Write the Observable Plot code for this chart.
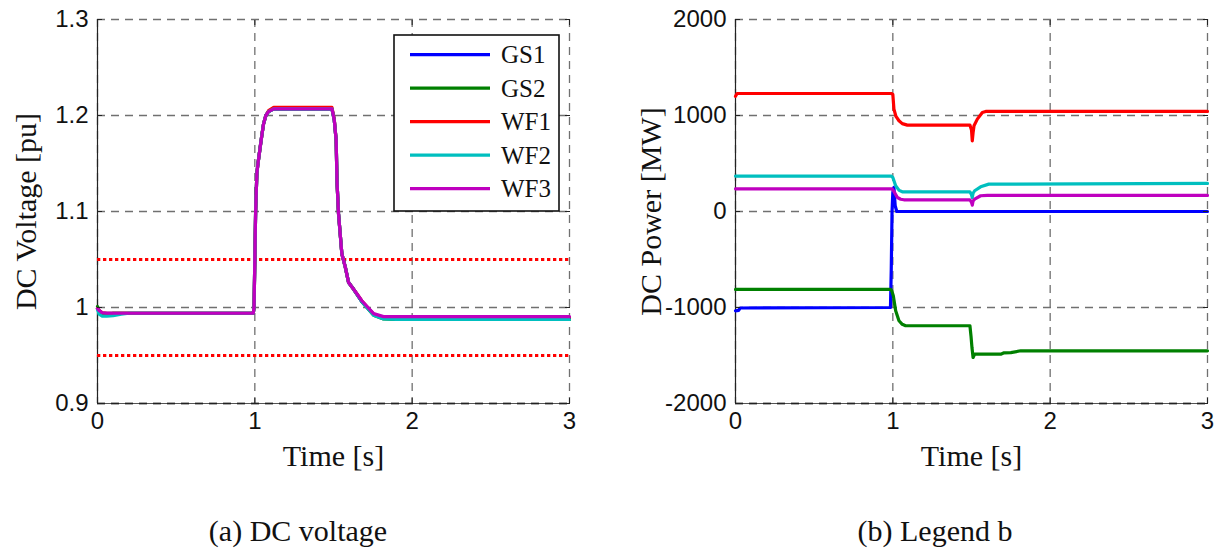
<!DOCTYPE html>
<html><head><meta charset="utf-8">
<script src="https://cdn.jsdelivr.net/npm/d3@7"></script>
<script src="https://cdn.jsdelivr.net/npm/@observablehq/plot@0.6"></script>
<style>
html,body{margin:0;padding:0;background:#fff;}
#wrap{position:relative;width:1222px;height:549px;overflow:hidden;}
.panel{position:absolute;top:0;width:611px;height:549px;}
.cap{position:absolute;top:514px;line-height:34px;font-family:"Liberation Serif","Times New Roman",serif;font-size:30px;color:#111;white-space:nowrap;transform:translateX(-50%);}
.legend{position:absolute;}
</style>
</head><body>
<div id="wrap">
  <div class="panel" id="pa" style="left:0"></div>
  <div class="panel" id="pb" style="left:611px"></div>
</div>
<script>
// ---------- shared ----------
const series = ["GS1", "GS2", "WF1", "WF2", "WF3"];
const colors = ["#0000ff", "#008000", "#ff0000", "#00bfbf", "#bf00bf"];
const timeDomain = [0, 3];
const timeTicks = [0, 1, 2, 3];

// ---------- (a) DC voltage ----------
const voltDomain = [0.9, 1.3];
const voltTicks = [0.9, 1.0, 1.1, 1.2, 1.3];
const voltLimits = [1.05, 0.95];
const tVolt = [0, 0.01, 0.03, 0.06, 0.1, 0.15, 0.2, 0.99, 0.995, 0.998, 1.005, 1.013, 1.02, 1.034, 1.045, 1.055, 1.07, 1.087, 1.12, 1.3, 1.49, 1.505, 1.517, 1.522, 1.532, 1.553, 1.575, 1.596, 1.628, 1.68, 1.755, 1.818, 1.9, 2.5, 3.0];
const vGS1 = [0.999, 0.996, 0.994, 0.994, 0.994, 0.994, 0.994, 0.994, 1.0, 1.03, 1.10, 1.14, 1.15, 1.167, 1.18, 1.191, 1.20, 1.204, 1.207, 1.207, 1.207, 1.195, 1.174, 1.132, 1.0975, 1.056, 1.042, 1.026, 1.019, 1.006, 0.993, 0.989, 0.989, 0.989, 0.989];
const vGS2 = [1.001, 0.996, 0.993, 0.993, 0.994, 0.994, 0.994, 0.994, 1.0, 1.03, 1.10, 1.14, 1.15, 1.167, 1.18, 1.191, 1.20, 1.204, 1.207, 1.207, 1.207, 1.195, 1.174, 1.132, 1.0975, 1.056, 1.042, 1.026, 1.019, 1.006, 0.992, 0.988, 0.9875, 0.9875, 0.9875];
const vWF1 = [0.999, 0.997, 0.9945, 0.994, 0.994, 0.994, 0.994, 0.994, 1.0, 1.03, 1.10, 1.14, 1.15, 1.167, 1.18, 1.191, 1.20, 1.205, 1.2085, 1.2085, 1.2085, 1.196, 1.174, 1.132, 1.0975, 1.056, 1.042, 1.026, 1.019, 1.007, 0.993, 0.9898, 0.9898, 0.9898, 0.9898];
const vWF2 = [0.998, 0.993, 0.991, 0.991, 0.9915, 0.993, 0.994, 0.994, 1.0, 1.03, 1.10, 1.14, 1.15, 1.167, 1.18, 1.191, 1.20, 1.204, 1.207, 1.207, 1.207, 1.195, 1.174, 1.132, 1.0975, 1.056, 1.042, 1.026, 1.019, 1.006, 0.992, 0.988, 0.9875, 0.9875, 0.9875];
const vWF3 = [0.999, 0.997, 0.9945, 0.994, 0.994, 0.994, 0.994, 0.994, 1.0, 1.03, 1.10, 1.14, 1.15, 1.167, 1.18, 1.191, 1.20, 1.204, 1.207, 1.207, 1.207, 1.195, 1.174, 1.132, 1.0975, 1.056, 1.042, 1.026, 1.019, 1.007, 0.9936, 0.9905, 0.9905, 0.9905, 0.9905];

// ---------- (b) DC power ----------
const powDomain = [-2000, 2000];
const powTicks = [-2000, -1000, 0, 1000, 2000];
const tGS1 = [0, 0.02, 0.03, 0.985, 0.99, 0.995, 1.0, 1.007, 1.015, 1.025, 3.0];
const pGS1 = [-1035, -1030, -1005, -1000, -600, 0, 200, 250, 60, 0, 0];
const tGS2 = [0, 0.985, 0.993, 1.003, 1.018, 1.039, 1.06, 1.081, 1.49, 1.497, 1.503, 1.51, 1.52, 1.686, 1.707, 1.75, 1.813, 3.0];
const pGS2 = [-812, -812, -825, -878, -1034, -1138, -1175, -1190, -1190, -1300, -1417, -1521, -1486, -1486, -1472, -1470, -1451, -1451];
const tWF1 = [0, 0.01, 0.99, 1.0, 1.007, 1.02, 1.039, 1.06, 1.092, 1.49, 1.5, 1.505, 1.51, 1.516, 1.537, 1.569, 1.59, 3.0];
const pWF1 = [1200, 1229, 1229, 1220, 1067, 990, 945, 915, 900, 900, 850, 736, 820, 893, 962, 1031, 1042, 1042];
const tWF2 = [0, 0.99, 1.0, 1.018, 1.04, 1.06, 1.49, 1.5, 1.505, 1.51, 1.52, 1.558, 1.61, 3.0];
const pWF2 = [369, 369, 355, 268, 220, 205, 205, 175, 146, 190, 216, 257, 285, 292];
const tWF3 = [0, 0.995, 1.005, 1.029, 1.05, 1.07, 1.49, 1.5, 1.505, 1.51, 1.52, 1.558, 1.6, 3.0];
const pWF3 = [236, 236, 215, 146, 128, 122, 122, 95, 66, 110, 129, 164, 167, 167];

// ---------- build tables ----------
function rows(t, v, s) { return t.map((d, i) => ({t: d, v: v[i], s})); }
const voltVals = [vGS1, vGS2, vWF1, vWF2, vWF3];
const voltData = series.flatMap((s, i) => rows(tVolt, voltVals[i], s));
const powT = [tGS1, tGS2, tWF1, tWF2, tWF3];
const powV = [pGS1, pGS2, pWF1, pWF2, pWF3];
const powData = series.flatMap((s, i) => rows(powT[i], powV[i], s));

const gridStyle = {stroke: "#707070", strokeOpacity: 1, strokeWidth: 1.3, strokeDasharray: "8,6"};
const serif = "Liberation Serif, Times New Roman, serif";

function panel({data, yDomain, yTicks, yLabel, marginLeft, marginRight, yLabelDx, limits}) {
  const fmt = d => String(d);
  return Plot.plot({
    width: 611, height: 490,
    marginLeft, marginRight, marginTop: 19, marginBottom: 87,
    x: {domain: timeDomain},
    y: {domain: yDomain},
    color: {domain: series, range: colors},
    style: {fontFamily: "Liberation Sans, Arial, sans-serif", fontSize: "24px", color: "#111", background: "white", overflow: "visible"},
    marks: [
      Plot.gridX(timeTicks, gridStyle),
      Plot.gridY(yTicks, gridStyle),
      Plot.ruleX([timeDomain[0]], {stroke: "#222", strokeWidth: 1.2}),
      Plot.ruleY([yDomain[0]], {stroke: "#555", strokeWidth: 1.2}),
      Plot.gridY(yTicks.filter(d => d === yDomain[0]), {stroke: "#222", strokeOpacity: 1, strokeWidth: 1.4, strokeDasharray: "8,6"}),
      limits ? Plot.ruleY(limits, {stroke: "#ff0000", strokeWidth: 3, strokeDasharray: "3.3,2.7"}) : null,
      Plot.line(data, {x: "t", y: "v", z: "s", stroke: "s", strokeWidth: 3.2, strokeLinejoin: "round"}),
      Plot.axisX(timeTicks, {tickSize: 0, tickPadding: 8, tickFormat: fmt, label: null}),
      Plot.axisY(yTicks, {tickSize: 0, tickPadding: 9, tickFormat: fmt, label: null}),
      Plot.axisX(timeTicks, {tickSize: -5, tickFormat: () => "", label: null, stroke: "#222"}),
      Plot.axisY(yTicks, {tickSize: -5, tickFormat: () => "", label: null, stroke: "#222"}),
      Plot.axisX(timeTicks, {anchor: "top", tickSize: -5, tickFormat: () => "", label: null, stroke: "#222"}),
      Plot.axisY(yTicks, {anchor: "right", tickSize: -5, tickFormat: () => "", label: null, stroke: "#222"}),
      Plot.text(["Time [s]"], {text: d => d, frameAnchor: "bottom", dy: 62, textAnchor: "middle", fontFamily: serif, fontSize: 30, fill: "#111"}),
      Plot.text([yLabel], {text: d => d, frameAnchor: "left", dx: yLabelDx, rotate: -90, textAnchor: "middle", fontFamily: serif, fontSize: 30, fill: "#111"})
    ]
  });
}

const pa = document.getElementById("pa");
const pb = document.getElementById("pb");
pa.appendChild(panel({data: voltData, yDomain: voltDomain, yTicks: voltTicks, yLabel: "DC Voltage [pu]", marginLeft: 97, marginRight: 42, yLabelDx: -71, limits: voltLimits}));
pb.appendChild(panel({data: powData, yDomain: powDomain, yTicks: powTicks, yLabel: "DC Power [MW]", marginLeft: 124, marginRight: 15, yLabelDx: -84, limits: null}));

// captions
const capA = document.createElement("div"); capA.className = "cap"; capA.style.left = "298px"; capA.textContent = "(a) DC voltage"; pa.appendChild(capA);
const capB = document.createElement("div"); capB.className = "cap"; capB.style.left = "324px"; capB.textContent = "(b) Legend b"; pb.appendChild(capB);

// legend (inside panel a)
const lg = d3.select(pa).append("svg").attr("class", "legend")
  .attr("width", 168).attr("height", 179)
  .style("left", "393px").style("top", "34px");
lg.append("rect").attr("x", 1).attr("y", 1).attr("width", 165).attr("height", 176)
  .attr("fill", "white").attr("stroke", "#111").attr("stroke-width", 1.6);
series.forEach((s, i) => {
  const cy = 20.7 + i * 33.5;
  lg.append("line").attr("x1", 17).attr("x2", 97).attr("y1", cy).attr("y2", cy)
    .attr("stroke", colors[i]).attr("stroke-width", 3.3);
  lg.append("text").attr("x", 108).attr("y", cy).attr("dy", "0.35em")
    .attr("font-family", serif).attr("font-size", 25).attr("fill", "#111").text(s);
});
</script>
</body></html>
